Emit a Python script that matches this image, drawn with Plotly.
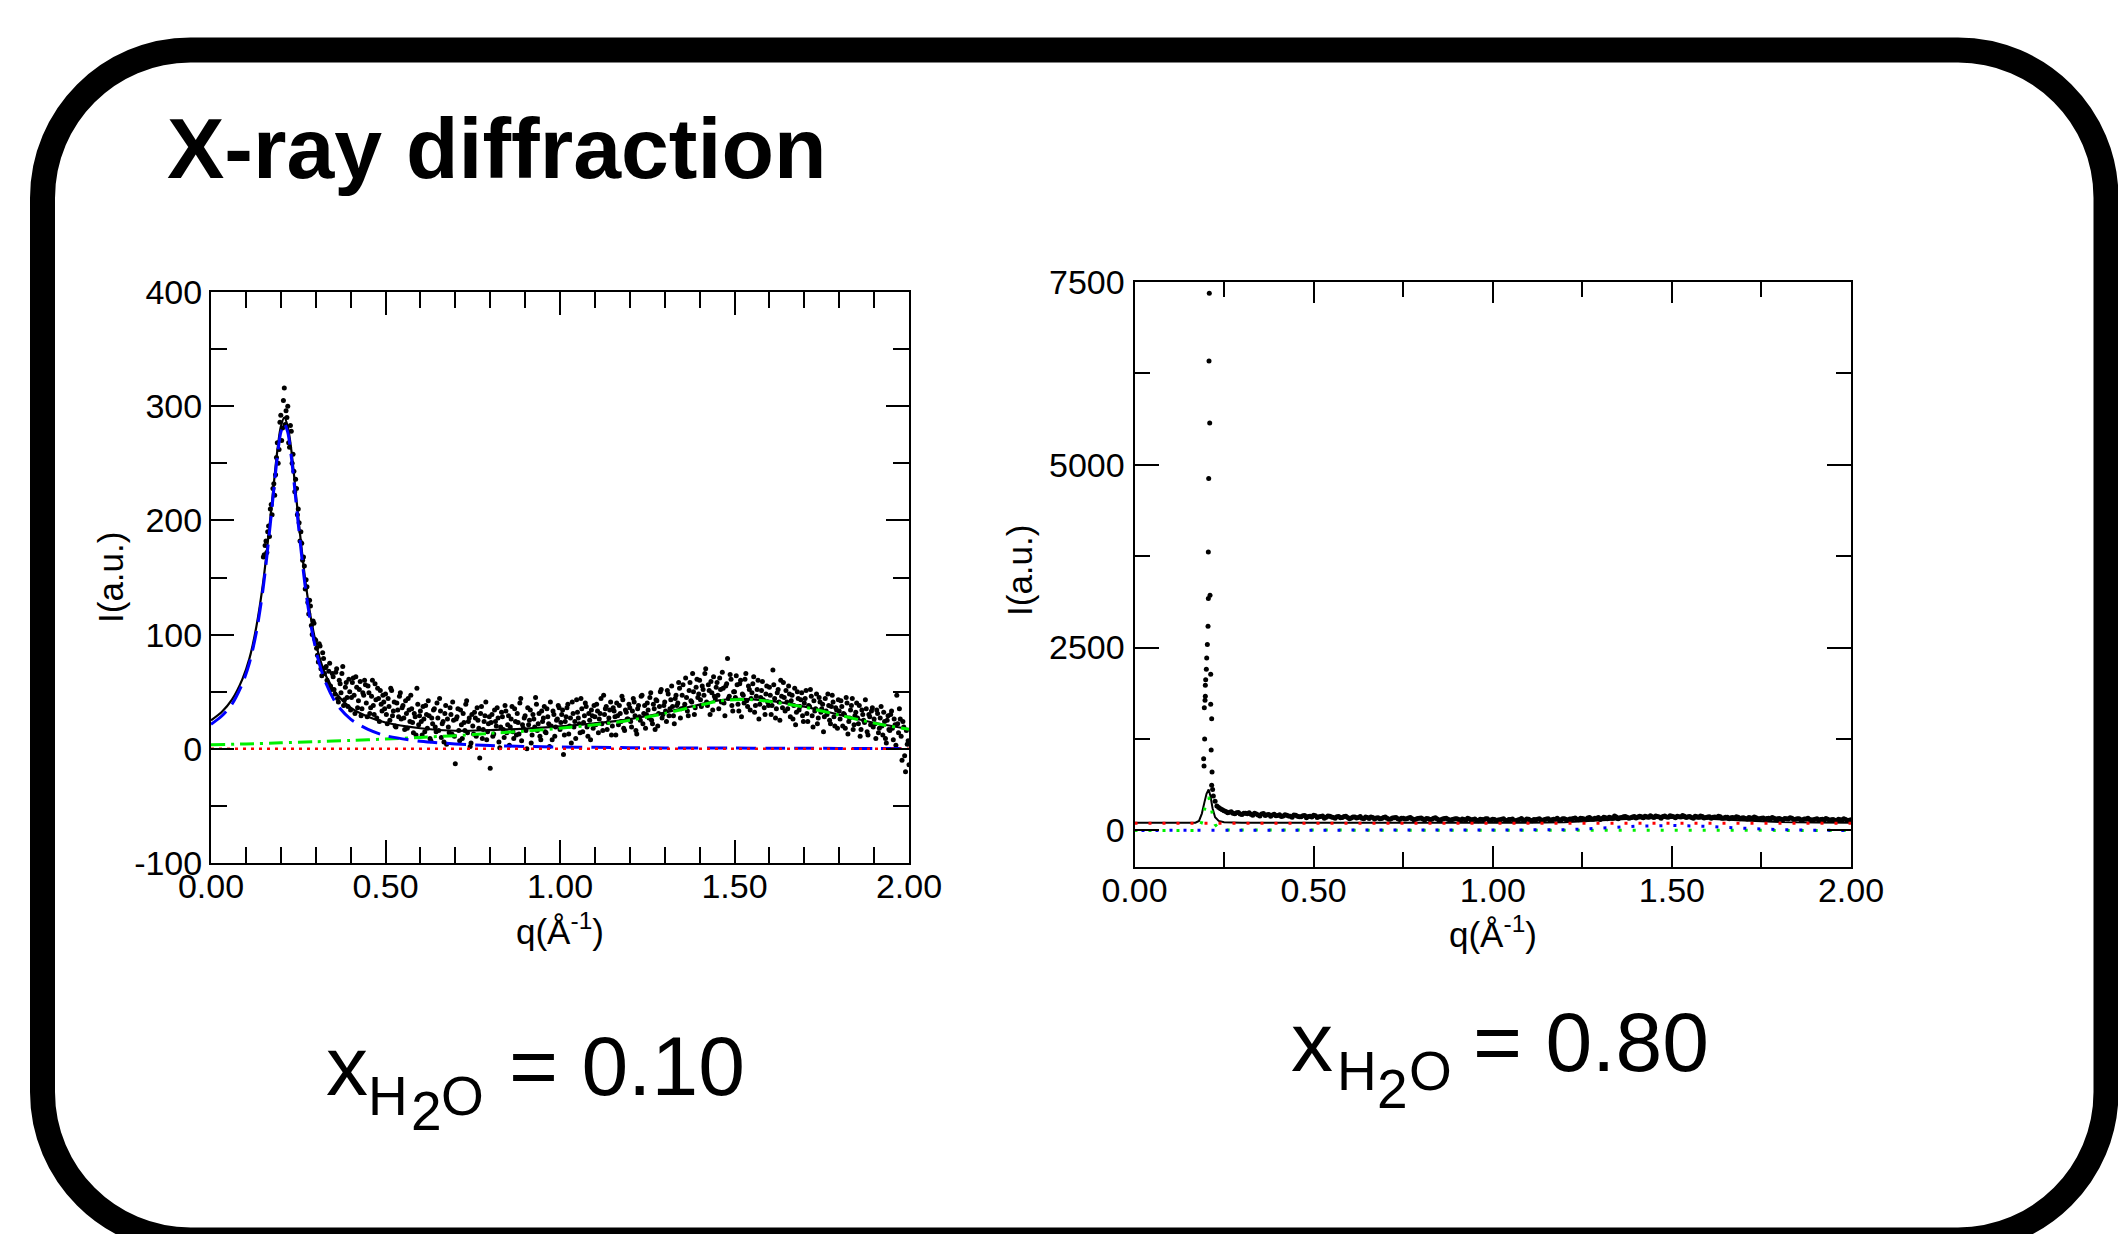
import plotly.graph_objects as go

W, H = 2118, 1234
FONT = "Liberation Sans, Arial, Helvetica, sans-serif"

# ---------------- data: left panel (x_H2O = 0.10) ----------------
Q_FIT_L = [0.00, 0.03, 0.06, 0.09, 0.11, 0.13, 0.15, 0.17, 0.19, 0.20,
           0.21, 0.22, 0.23, 0.25, 0.27, 0.29, 0.31, 0.33, 0.36, 0.40,
           0.45, 0.50, 0.60, 0.70, 0.80, 0.90, 1.00, 1.10, 1.20, 1.30,
           1.40, 1.45, 1.50, 1.60, 1.70, 1.80, 1.90, 2.00]
I_TOTAL_L = [25, 32, 43, 61, 79, 107, 147, 202, 261, 282,
             290, 282, 262, 203, 148, 108, 81, 63.5, 48, 36,
             28, 23, 18, 15.8, 16.4, 17.6, 19.6, 22.3, 26, 31.8,
             38.7, 42.2, 43.6, 42, 36.9, 29.9, 22.8, 17.3]
I_BLUE_L = [21.5, 28.5, 39, 57, 75, 102, 142, 197, 256, 277,
            285, 277, 256, 197, 142, 102, 75, 57, 39, 26,
            17, 11.5, 6.6, 4.3, 2.9, 2.1, 1.6, 1.3, 1.0, 0.8,
            0.7, 0.65, 0.6, 0.5, 0.4, 0.35, 0.3, 0.3]
Q_GREEN_L = [0.0, 0.1, 0.2, 0.3, 0.4, 0.5, 0.6, 0.7, 0.8, 0.9, 1.0, 1.1,
             1.2, 1.3, 1.4, 1.45, 1.5, 1.55, 1.6, 1.7, 1.8, 1.9, 2.0]
I_GREEN_L = [3.5, 4.3, 5.2, 6.2, 7.3, 8.5, 10, 11.5, 13.5, 15.5, 18, 21,
             25, 31, 38, 41.5, 43, 43, 41.5, 36.5, 29.5, 22.5, 17]
Q_RED_L = [0.0, 2.0]
I_RED_L = [0, 0]

# measured points, first sweep
Q_PTS_L = [
    0.150, 0.155, 0.160, 0.165, 0.170, 0.175, 0.180, 0.185, 0.190, 0.195,
    0.200, 0.205, 0.210, 0.215, 0.220, 0.225, 0.230, 0.235, 0.240, 0.245,
    0.250, 0.255, 0.260, 0.265, 0.270, 0.275, 0.280, 0.285, 0.290, 0.295,
    0.300, 0.305, 0.310, 0.315, 0.320, 0.325, 0.330, 0.335, 0.340, 0.345,
    0.350, 0.355, 0.360, 0.365, 0.370, 0.375, 0.380, 0.385, 0.390, 0.395,
    0.400, 0.405, 0.410, 0.415, 0.420, 0.425, 0.430, 0.435, 0.440, 0.445,
    0.450, 0.455, 0.460, 0.465, 0.470, 0.475, 0.480, 0.485, 0.490, 0.495,
    0.500, 0.505, 0.510, 0.515, 0.520, 0.525, 0.530, 0.535, 0.540, 0.545,
    0.550, 0.555, 0.560, 0.565, 0.570, 0.575, 0.580, 0.585, 0.590, 0.595,
    0.600, 0.605, 0.610, 0.615, 0.620, 0.625, 0.630, 0.635, 0.640, 0.645,
    0.650, 0.655, 0.660, 0.665, 0.670, 0.675, 0.680, 0.685, 0.690, 0.695,
    0.700, 0.705, 0.710, 0.715, 0.720, 0.725, 0.730, 0.735, 0.740, 0.745,
    0.750, 0.755, 0.760, 0.765, 0.770, 0.775, 0.780, 0.785, 0.790, 0.795,
    0.800, 0.805, 0.810, 0.815, 0.820, 0.825, 0.830, 0.835, 0.840, 0.845,
    0.850, 0.855, 0.860, 0.865, 0.870, 0.875, 0.880, 0.885, 0.890, 0.895,
    0.900, 0.905, 0.910, 0.915, 0.920, 0.925, 0.930, 0.935, 0.940, 0.945,
    0.950, 0.955, 0.960, 0.965, 0.970, 0.975, 0.980, 0.985, 0.990, 0.995,
    1.000, 1.005, 1.010, 1.015, 1.020, 1.025, 1.030, 1.035, 1.040, 1.045,
    1.050, 1.055, 1.060, 1.065, 1.070, 1.075, 1.080, 1.085, 1.090, 1.095,
    1.100, 1.105, 1.110, 1.115, 1.120, 1.125, 1.130, 1.135, 1.140, 1.145,
    1.150, 1.155, 1.160, 1.165, 1.170, 1.175, 1.180, 1.185, 1.190, 1.195,
    1.200, 1.205, 1.210, 1.215, 1.220, 1.225, 1.230, 1.235, 1.240, 1.245,
    1.250, 1.255, 1.260, 1.265, 1.270, 1.275, 1.280, 1.285, 1.290, 1.295,
    1.300, 1.305, 1.310, 1.315, 1.320, 1.325, 1.330, 1.335, 1.340, 1.345,
    1.350, 1.355, 1.360, 1.365, 1.370, 1.375, 1.380, 1.385, 1.390, 1.395,
    1.400, 1.405, 1.410, 1.415, 1.420, 1.425, 1.430, 1.435, 1.440, 1.445,
    1.450, 1.455, 1.460, 1.465, 1.470, 1.475, 1.480, 1.485, 1.490, 1.495,
    1.500, 1.505, 1.510, 1.515, 1.520, 1.525, 1.530, 1.535, 1.540, 1.545,
    1.550, 1.555, 1.560, 1.565, 1.570, 1.575, 1.580, 1.585, 1.590, 1.595,
    1.600, 1.605, 1.610, 1.615, 1.620, 1.625, 1.630, 1.635, 1.640, 1.645,
    1.650, 1.655, 1.660, 1.665, 1.670, 1.675, 1.680, 1.685, 1.690, 1.695,
    1.700, 1.705, 1.710, 1.715, 1.720, 1.725, 1.730, 1.735, 1.740, 1.745,
    1.750, 1.755, 1.760, 1.765, 1.770, 1.775, 1.780, 1.785, 1.790, 1.795,
    1.800, 1.805, 1.810, 1.815, 1.820, 1.825, 1.830, 1.835, 1.840, 1.845,
    1.850, 1.855, 1.860, 1.865, 1.870, 1.875, 1.880, 1.885, 1.890, 1.895,
    1.900, 1.905, 1.910, 1.915, 1.920, 1.925, 1.930, 1.935, 1.940, 1.945,
    1.950, 1.955, 1.960, 1.965, 1.970, 1.975, 1.980, 1.985, 1.990, 1.995,
    2.000]
I_PTS_L = [
    168, 178, 172, 195, 210, 205, 232, 240, 268, 262,
    292, 281, 316, 296, 300, 264, 278, 258, 225, 228,
    210, 182, 180, 168, 140, 142, 118, 125, 100, 110,
    95, 82, 92, 70, 84, 66, 72, 58, 75, 52,
    63, 48, 70, 41, 57, 66, 38, 54, 45, 61,
    34, 58, 47, 63, 36, 52, 29, 49, 60, 40,
    55, 31, 46, 38, 57, 27, 44, 51, 33, 41,
    48, 22, 37, 53, 29, 41, 19, 34, 46, 26,
    38, 17, 31, 44, 24, 35, 14, 28, 53, 21,
    33, 12, 26, 38, 18, 29, 7, 22, 35, 15,
    27, 44, 10, 24, 31, 4, 19, 36, 13, 25,
    -13, 28, 16, 34, 9, 23, 39, 14, 27, 5,
    20, 32, 11, 25, -8, 37, 17, 29, 8, 22,
    -17, 30, 13, 24, 36, 6, 19, 28, 10, 33,
    21, 3, 26, 15, 35, 12, 23, 40, 7, 18,
    29, 0, 21, 34, 12, 26, 45, 16, 31, 8,
    24, 37, 14, 28, 2, 20, 33, 11, 25, 38,
    17, 30, -5, 24, 36, 13, 27, 41, 19, 9,
    32, 22, 44, 15, 29, 37, 11, 25, 34, 18,
    28, 39, 14, 31, 22, 47, 35, 17, 27, 41,
    20, 33, 12, 29, 38, 24, 43, 16, 32, 26,
    36, 19, 44, 29, 13, 38, 25, 47, 31, 18,
    40, 27, 49, 22, 35, 43, 20, 37, 52, 30,
    41, 24, 48, 35, 55, 29, 44, 38, 58, 27,
    47, 36, 62, 33, 51, 42, 66, 30, 54, 45,
    60, 37, 52, 66, 41, 56, 30, 49, 63, 44,
    58, 35, 52, 67, 40, 55, 79, 46, 61, 33,
    50, 64, 39, 57, 28, 47, 61, 42, 55, 34,
    49, 63, 38, 52, 26, 45, 59, 36, 48, 41,
    54, 30, 69, 44, 35, 52, 25, 46, 58, 33,
    41, 55, 28, 47, 38, 21, 50, 34, 43, 29,
    40, 51, 24, 37, 46, 19, 33, 48, 27, 41,
    35, 15, 44, 30, 38, 22, 47, 28, 36, 18,
    33, 42, 20, 30, 45, 13, 27, 38, 17, 29,
    40, 22, 11, 34, 25, 43, 15, 30, 21, 36,
    26, 9, 31, 18, 37, 12, 24, 5, 29, 16,
    33, 8, 21, 47, 14, 26, -10, 19, -20, 4,
    -14]

# measured points, interleaved sweep
Q_PTS2_L = [
    0.1525, 0.1575, 0.1625, 0.1675, 0.1725, 0.1775, 0.1825, 0.1875, 0.1925, 0.1975,
    0.2025, 0.2075, 0.2125, 0.2175, 0.2225, 0.2275, 0.2325, 0.2375, 0.2425, 0.2475,
    0.2525, 0.2575, 0.2625, 0.2675, 0.2725, 0.2775, 0.2825, 0.2875, 0.2925, 0.2975,
    0.3025, 0.3075, 0.3125, 0.3175, 0.3225, 0.3275, 0.3325, 0.3375, 0.3425, 0.3475,
    0.3525, 0.3575, 0.3625, 0.3675, 0.3725, 0.3775, 0.3825, 0.3875, 0.3925, 0.3975,
    0.4025, 0.4075, 0.4125, 0.4175, 0.4225, 0.4275, 0.4325, 0.4375, 0.4425, 0.4475,
    0.4525, 0.4575, 0.4625, 0.4675, 0.4725, 0.4775, 0.4825, 0.4875, 0.4925, 0.4975,
    0.5025, 0.5075, 0.5125, 0.5175, 0.5225, 0.5275, 0.5325, 0.5375, 0.5425, 0.5475,
    0.5525, 0.5575, 0.5625, 0.5675, 0.5725, 0.5775, 0.5825, 0.5875, 0.5925, 0.5975,
    0.6025, 0.6075, 0.6125, 0.6175, 0.6225, 0.6275, 0.6325, 0.6375, 0.6425, 0.6475,
    0.6525, 0.6575, 0.6625, 0.6675, 0.6725, 0.6775, 0.6825, 0.6875, 0.6925, 0.6975,
    0.7025, 0.7075, 0.7125, 0.7175, 0.7225, 0.7275, 0.7325, 0.7375, 0.7425, 0.7475,
    0.7525, 0.7575, 0.7625, 0.7675, 0.7725, 0.7775, 0.7825, 0.7875, 0.7925, 0.7975,
    0.8025, 0.8075, 0.8125, 0.8175, 0.8225, 0.8275, 0.8325, 0.8375, 0.8425, 0.8475,
    0.8525, 0.8575, 0.8625, 0.8675, 0.8725, 0.8775, 0.8825, 0.8875, 0.8925, 0.8975,
    0.9025, 0.9075, 0.9125, 0.9175, 0.9225, 0.9275, 0.9325, 0.9375, 0.9425, 0.9475,
    0.9525, 0.9575, 0.9625, 0.9675, 0.9725, 0.9775, 0.9825, 0.9875, 0.9925, 0.9975,
    1.0025, 1.0075, 1.0125, 1.0175, 1.0225, 1.0275, 1.0325, 1.0375, 1.0425, 1.0475,
    1.0525, 1.0575, 1.0625, 1.0675, 1.0725, 1.0775, 1.0825, 1.0875, 1.0925, 1.0975,
    1.1025, 1.1075, 1.1125, 1.1175, 1.1225, 1.1275, 1.1325, 1.1375, 1.1425, 1.1475,
    1.1525, 1.1575, 1.1625, 1.1675, 1.1725, 1.1775, 1.1825, 1.1875, 1.1925, 1.1975,
    1.2025, 1.2075, 1.2125, 1.2175, 1.2225, 1.2275, 1.2325, 1.2375, 1.2425, 1.2475,
    1.2525, 1.2575, 1.2625, 1.2675, 1.2725, 1.2775, 1.2825, 1.2875, 1.2925, 1.2975,
    1.3025, 1.3075, 1.3125, 1.3175, 1.3225, 1.3275, 1.3325, 1.3375, 1.3425, 1.3475,
    1.3525, 1.3575, 1.3625, 1.3675, 1.3725, 1.3775, 1.3825, 1.3875, 1.3925, 1.3975,
    1.4025, 1.4075, 1.4125, 1.4175, 1.4225, 1.4275, 1.4325, 1.4375, 1.4425, 1.4475,
    1.4525, 1.4575, 1.4625, 1.4675, 1.4725, 1.4775, 1.4825, 1.4875, 1.4925, 1.4975,
    1.5025, 1.5075, 1.5125, 1.5175, 1.5225, 1.5275, 1.5325, 1.5375, 1.5425, 1.5475,
    1.5525, 1.5575, 1.5625, 1.5675, 1.5725, 1.5775, 1.5825, 1.5875, 1.5925, 1.5975,
    1.6025, 1.6075, 1.6125, 1.6175, 1.6225, 1.6275, 1.6325, 1.6375, 1.6425, 1.6475,
    1.6525, 1.6575, 1.6625, 1.6675, 1.6725, 1.6775, 1.6825, 1.6875, 1.6925, 1.6975,
    1.7025, 1.7075, 1.7125, 1.7175, 1.7225, 1.7275, 1.7325, 1.7375, 1.7425, 1.7475,
    1.7525, 1.7575, 1.7625, 1.7675, 1.7725, 1.7775, 1.7825, 1.7875, 1.7925, 1.7975,
    1.8025, 1.8075, 1.8125, 1.8175, 1.8225, 1.8275, 1.8325, 1.8375, 1.8425, 1.8475,
    1.8525, 1.8575, 1.8625, 1.8675, 1.8725, 1.8775, 1.8825, 1.8875, 1.8925, 1.8975,
    1.9025, 1.9075, 1.9125, 1.9175, 1.9225, 1.9275, 1.9325, 1.9375, 1.9425, 1.9475,
    1.9525, 1.9575, 1.9625, 1.9675, 1.9725, 1.9775, 1.9825, 1.9875, 1.9925, 1.9975]
I_PTS2_L = [
    170, 182, 190, 186, 214, 228, 222, 255, 250, 286,
    270, 305, 284, 290, 268, 283, 250, 243, 236, 205,
    198, 190, 165, 160, 148, 128, 130, 108, 112, 96,
    88, 76, 90, 64, 79, 71, 60, 68, 55, 66,
    52, 67, 44, 60, 49, 72, 43, 58, 37, 50,
    45, 62, 31, 54, 42, 59, 35, 47, 56, 28,
    49, 36, 60, 30, 43, 53, 24, 39, 47, 35,
    30, 44, 25, 51, 33, 20, 40, 28, 49, 36,
    27, 42, 18, 34, 47, 23, 31, 12, 39, 29,
    24, 37, 15, 30, 42, 9, 27, 34, 19, 40,
    16, 33, 22, 6, 38, 26, 14, 30, 41, 11,
    26, 35, 7, 21, 31, 16, 42, 24, 2, 30,
    13, 27, 36, 18, 31, 9, 24, 41, 15, 28,
    23, 11, 34, 20, 27, 1, 32, 17, 38, 14,
    29, 19, 37, 9, 24, 31, 13, 44, 21, 27,
    16, 36, 25, 5, 30, 19, 39, 22, 11, 33,
    27, 15, 35, 22, 41, 8, 30, 19, 26, 36,
    23, 34, 12, 28, 39, 20, 5, 31, 24, 43,
    27, 14, 35, 23, 40, 19, 31, 8, 29, 38,
    21, 33, 26, 44, 16, 30, 37, 23, 34, 12,
    36, 28, 40, 21, 31, 46, 18, 34, 26, 39,
    24, 33, 41, 16, 35, 28, 46, 22, 38, 30,
    34, 45, 25, 39, 17, 42, 31, 50, 27, 38,
    33, 51, 29, 43, 37, 22, 47, 40, 53, 35,
    56, 39, 45, 29, 58, 41, 50, 36, 61, 48,
    43, 55, 47, 70, 38, 51, 59, 34, 46, 54,
    47, 62, 41, 53, 29, 57, 44, 65, 38, 50,
    45, 56, 33, 60, 48, 40, 66, 37, 52, 44,
    57, 32, 46, 60, 39, 51, 43, 30, 55, 38,
    47, 38, 56, 27, 49, 41, 60, 36, 45, 51,
    35, 48, 42, 26, 53, 32, 44, 37, 49, 24,
    44, 31, 38, 52, 29, 42, 35, 22, 45, 32,
    39, 28, 33, 48, 25, 37, 41, 20, 34, 43,
    26, 37, 31, 18, 40, 24, 34, 44, 21, 32,
    27, 38, 17, 30, 23, 35, 12, 28, 33, 19,
    22, 34, 14, 27, 20, 32, 9, 25, 17, 30,
    18, 26, 3, 22, 35, 11, 24, -6, 16, 7]

# ---------------- data: right panel (x_H2O = 0.80) ----------------
Q_FIT_R = [0.00, 0.10, 0.170, 0.180, 0.188, 0.195, 0.201, 0.207, 0.212, 0.218,
           0.225, 0.235, 0.250, 0.30, 0.50, 0.80, 1.00, 1.10, 1.20, 1.30,
           1.40, 1.50, 1.60, 1.70, 1.80, 1.90, 2.00]
I_TOTAL_R = [105, 105, 106, 130, 230, 380, 500, 560, 470, 300,
             180, 130, 112, 106, 105, 105, 105, 106, 113, 135,
             162, 173, 160, 135, 115, 107, 105]
Q_RED_R = [0.0, 2.0]
I_RED_R = [98, 98]
Q_GREEN_R = [0.00, 0.170, 0.180, 0.188, 0.195, 0.201, 0.207, 0.212, 0.218,
             0.225, 0.235, 0.250, 2.00]
I_GREEN_R = [0, 0, 20, 120, 275, 395, 455, 365, 200, 80, 25, 5, 0]
Q_BLUE_R = [0.00, 1.10, 1.20, 1.30, 1.40, 1.50, 1.60, 1.70, 1.80, 1.90, 2.00]
I_BLUE_R = [0, 0, 8, 30, 58, 68, 55, 30, 10, 2, 0]

Q_SPIKE_R = [0.1930, 0.1940, 0.1949, 0.1958, 0.1968, 0.1977, 0.1977, 0.1987,
             0.2005, 0.2015, 0.2033, 0.2052, 0.2061, 0.2061, 0.2071, 0.2080,
             0.2088, 0.2099, 0.2108, 0.2127, 0.2127, 0.2140, 0.2154, 0.2154,
             0.2165, 0.2180]
I_SPIKE_R = [980, 880, 1678, 1250, 1778, 1983, 1833, 2061,
             2202, 2358, 2540, 2790, 3807, 3169, 4810, 6415,
             7341, 5567, 3214, 2134, 1723, 1100, 1528, 616,
             800, 560]
Q_BAND_R = [
    0.22, 0.23, 0.24, 0.25, 0.26, 0.27, 0.28, 0.29, 0.30, 0.31,
    0.32, 0.33, 0.34, 0.35, 0.36, 0.37, 0.38, 0.39, 0.40, 0.41,
    0.42, 0.43, 0.44, 0.45, 0.46, 0.47, 0.48, 0.49, 0.50, 0.51,
    0.52, 0.53, 0.54, 0.55, 0.56, 0.57, 0.58, 0.59, 0.60, 0.61,
    0.62, 0.63, 0.64, 0.65, 0.66, 0.67, 0.68, 0.69, 0.70, 0.71,
    0.72, 0.73, 0.74, 0.75, 0.76, 0.77, 0.78, 0.79, 0.80, 0.81,
    0.82, 0.83, 0.84, 0.85, 0.86, 0.87, 0.88, 0.89, 0.90, 0.91,
    0.92, 0.93, 0.94, 0.95, 0.96, 0.97, 0.98, 0.99, 1.00, 1.01,
    1.02, 1.03, 1.04, 1.05, 1.06, 1.07, 1.08, 1.09, 1.10, 1.11,
    1.12, 1.13, 1.14, 1.15, 1.16, 1.17, 1.18, 1.19, 1.20, 1.21,
    1.22, 1.23, 1.24, 1.25, 1.26, 1.27, 1.28, 1.29, 1.30, 1.31,
    1.32, 1.33, 1.34, 1.35, 1.36, 1.37, 1.38, 1.39, 1.40, 1.41,
    1.42, 1.43, 1.44, 1.45, 1.46, 1.47, 1.48, 1.49, 1.50, 1.51,
    1.52, 1.53, 1.54, 1.55, 1.56, 1.57, 1.58, 1.59, 1.60, 1.61,
    1.62, 1.63, 1.64, 1.65, 1.66, 1.67, 1.68, 1.69, 1.70, 1.71,
    1.72, 1.73, 1.74, 1.75, 1.76, 1.77, 1.78, 1.79, 1.80, 1.81,
    1.82, 1.83, 1.84, 1.85, 1.86, 1.87, 1.88, 1.89, 1.90, 1.91,
    1.92, 1.93, 1.94, 1.95, 1.96, 1.97, 1.98, 1.99, 2.00]
I_BAND_R = [
    470, 335, 296, 270, 242, 255, 228, 246, 219, 236,
    241, 209, 226, 198, 231, 214, 193, 220, 205, 189,
    214, 197, 180, 209, 186, 201, 173, 195, 206, 177,
    190, 168, 198, 182, 165, 189, 175, 194, 160, 183,
    171, 190, 158, 177, 185, 155, 172, 164, 183, 152,
    169, 178, 149, 166, 158, 176, 145, 163, 170, 143,
    159, 151, 172, 140, 156, 165, 138, 152, 161, 136,
    149, 167, 141, 155, 133, 148, 160, 137, 152, 131,
    146, 158, 135, 150, 129, 144, 162, 138, 153, 132,
    147, 160, 140, 156, 136, 151, 166, 143, 158, 140,
    155, 170, 147, 162, 145, 176, 152, 168, 150, 181,
    160, 174, 196, 158, 178, 190, 165, 183, 170, 195,
    172, 188, 200, 176, 191, 168, 197, 181, 194, 172,
    188, 203, 175, 190, 168, 186, 196, 171, 184, 165,
    182, 192, 166, 179, 160, 176, 187, 161, 174, 156,
    171, 182, 158, 168, 150, 166, 177, 153, 163, 146,
    161, 172, 148, 158, 141, 156, 166, 143, 153, 137,
    151, 162, 139, 149, 133, 146, 158, 136, 145]
Q_BAND2_R = [
    0.225, 0.235, 0.245, 0.255, 0.265, 0.275, 0.285, 0.295, 0.305, 0.315,
    0.325, 0.335, 0.345, 0.355, 0.365, 0.375, 0.385, 0.395, 0.405, 0.415,
    0.425, 0.435, 0.445, 0.455, 0.465, 0.475, 0.485, 0.495, 0.505, 0.515,
    0.525, 0.535, 0.545, 0.555, 0.565, 0.575, 0.585, 0.595, 0.605, 0.615,
    0.625, 0.635, 0.645, 0.655, 0.665, 0.675, 0.685, 0.695, 0.705, 0.715,
    0.725, 0.735, 0.745, 0.755, 0.765, 0.775, 0.785, 0.795, 0.805, 0.815,
    0.825, 0.835, 0.845, 0.855, 0.865, 0.875, 0.885, 0.895, 0.905, 0.915,
    0.925, 0.935, 0.945, 0.955, 0.965, 0.975, 0.985, 0.995, 1.005, 1.015,
    1.025, 1.035, 1.045, 1.055, 1.065, 1.075, 1.085, 1.095, 1.105, 1.115,
    1.125, 1.135, 1.145, 1.155, 1.165, 1.175, 1.185, 1.195, 1.205, 1.215,
    1.225, 1.235, 1.245, 1.255, 1.265, 1.275, 1.285, 1.295, 1.305, 1.315,
    1.325, 1.335, 1.345, 1.355, 1.365, 1.375, 1.385, 1.395, 1.405, 1.415,
    1.425, 1.435, 1.445, 1.455, 1.465, 1.475, 1.485, 1.495, 1.505, 1.515,
    1.525, 1.535, 1.545, 1.555, 1.565, 1.575, 1.585, 1.595, 1.605, 1.615,
    1.625, 1.635, 1.645, 1.655, 1.665, 1.675, 1.685, 1.695, 1.705, 1.715,
    1.725, 1.735, 1.745, 1.755, 1.765, 1.775, 1.785, 1.795, 1.805, 1.815,
    1.825, 1.835, 1.845, 1.855, 1.865, 1.875, 1.885, 1.895, 1.905, 1.915,
    1.925, 1.935, 1.945, 1.955, 1.965, 1.975, 1.985, 1.995]
I_BAND2_R = [
    400, 312, 281, 260, 249, 236, 241, 225, 233, 228,
    220, 234, 211, 226, 205, 219, 210, 201, 215, 198,
    207, 192, 212, 195, 188, 204, 190, 182, 199, 186,
    196, 180, 193, 176, 187, 172, 191, 178, 170, 185,
    176, 168, 182, 163, 178, 170, 160, 175, 166, 157,
    172, 161, 168, 155, 170, 158, 151, 166, 156, 162,
    150, 165, 155, 147, 162, 152, 145, 159, 149, 155,
    143, 157, 150, 139, 154, 145, 158, 141, 149, 144,
    153, 140, 148, 156, 137, 150, 143, 155, 139, 148,
    154, 141, 150, 160, 145, 153, 147, 161, 150, 157,
    163, 152, 168, 157, 171, 160, 165, 175, 163, 172,
    180, 168, 185, 174, 188, 179, 172, 190, 182, 186,
    193, 180, 188, 196, 183, 190, 185, 199, 186, 192,
    182, 195, 187, 178, 192, 181, 189, 176, 186, 179,
    175, 186, 170, 181, 173, 167, 180, 169, 163, 175,
    165, 174, 160, 171, 162, 156, 168, 159, 152, 164,
    155, 166, 151, 160, 147, 157, 150, 145, 158, 148,
    143, 154, 146, 140, 151, 142, 149, 138]

# ---------------- tick labels ----------------
X_TICKS = [0.0, 0.5, 1.0, 1.5, 2.0]
X_TICKTEXT = ["0.00", "0.50", "1.00", "1.50", "2.00"]
Y_TICKS_L = [-100, 0, 100, 200, 300, 400]
Y_TICKTEXT_L = ["-100", "0", "100", "200", "300", "400"]
Y_TICKS_R = [0, 2500, 5000, 7500]
Y_TICKTEXT_R = ["0", "2500", "5000", "7500"]


def px(x):
    return x / W


def py(y):
    return 1 - y / H


fig = go.Figure()
MK = dict(color="black", size=5, line=dict(width=0))

# left panel
fig.add_trace(go.Scatter(x=Q_PTS_L, y=I_PTS_L, mode="markers", xaxis="x", yaxis="y", marker=MK))
fig.add_trace(go.Scatter(x=Q_PTS2_L, y=I_PTS2_L, mode="markers", xaxis="x", yaxis="y", marker=MK))
fig.add_trace(go.Scatter(x=Q_FIT_L, y=I_TOTAL_L, mode="lines", xaxis="x", yaxis="y",
                         line=dict(color="black", width=2.2, shape="spline", smoothing=0.8)))
fig.add_trace(go.Scatter(x=Q_GREEN_L, y=I_GREEN_L, mode="lines", xaxis="x", yaxis="y",
                         line=dict(color="#00f000", width=3, shape="spline", smoothing=0.8,
                                   dash="14px,6px,3px,6px")))
fig.add_trace(go.Scatter(x=Q_FIT_L, y=I_BLUE_L, mode="lines", xaxis="x", yaxis="y",
                         line=dict(color="#0000ff", width=3, shape="spline", smoothing=0.8,
                                   dash="20px,9px")))
fig.add_trace(go.Scatter(x=Q_RED_L, y=I_RED_L, mode="lines", xaxis="x", yaxis="y",
                         line=dict(color="#ff0000", width=2.5, dash="3px,5px")))

# right panel
fig.add_trace(go.Scatter(x=Q_SPIKE_R + Q_BAND_R, y=I_SPIKE_R + I_BAND_R, mode="markers",
                         xaxis="x2", yaxis="y2", marker=MK))
fig.add_trace(go.Scatter(x=Q_BAND2_R, y=I_BAND2_R, mode="markers",
                         xaxis="x2", yaxis="y2", marker=MK))
fig.add_trace(go.Scatter(x=Q_FIT_R, y=I_TOTAL_R, mode="lines", xaxis="x2", yaxis="y2",
                         line=dict(color="black", width=2)))
fig.add_trace(go.Scatter(x=Q_RED_R, y=I_RED_R, mode="lines", xaxis="x2", yaxis="y2",
                         line=dict(color="#ff0000", width=3, dash="3px,11px")))
fig.add_trace(go.Scatter(x=Q_GREEN_R, y=I_GREEN_R, mode="lines", xaxis="x2", yaxis="y2",
                         line=dict(color="#00f000", width=3, dash="3px,11px")))
fig.add_trace(go.Scatter(x=Q_BLUE_R, y=I_BLUE_R, mode="lines", xaxis="x2", yaxis="y2",
                         line=dict(color="#0000ff", width=3, dash="0px,7px,3px,4px")))


def axis(domain, rng, tickvals, ticktext, major_len, minor_tick0, minor_dtick, minor_len,
         anchor, standoff):
    return dict(domain=domain, range=rng, autorange=False, anchor=anchor, automargin=False,
                tickmode="array", tickvals=tickvals, ticktext=ticktext,
                ticks="inside", ticklen=major_len, tickwidth=2, tickcolor="black",
                showline=True, linecolor="black", linewidth=2, mirror="allticks",
                showgrid=False, zeroline=False, ticklabelstandoff=standoff,
                tickfont=dict(family=FONT, size=34, color="black"),
                minor=dict(tickmode="linear", tick0=minor_tick0, dtick=minor_dtick,
                           ticks="inside", ticklen=minor_len, tickwidth=2,
                           tickcolor="black", showgrid=False))


layout = dict(
    template="none",
    width=W, height=H, margin=dict(l=0, r=0, t=0, b=0, pad=0, autoexpand=False),
    paper_bgcolor="white", plot_bgcolor="white", showlegend=False,
    font=dict(family=FONT, color="black"),
    xaxis=axis([px(211), px(909)], [0, 2], X_TICKS, X_TICKTEXT, 23, 0, 0.1, 16, "y", -8),
    yaxis=axis([py(863), py(292)], [-100, 400], Y_TICKS_L, Y_TICKTEXT_L, 23, -100, 50, 16, "x", 0),
    xaxis2=axis([px(1134.5), px(1851)], [0, 2], X_TICKS, X_TICKTEXT, 21, 0, 0.25, 15, "y2", -8),
    yaxis2=axis([py(867), py(281.7)], [-500, 7500], Y_TICKS_R, Y_TICKTEXT_R, 24, 0, 1250, 15, "x2", 1),
)
fig.update_layout(**layout)

# rounded frame
x0, y0, x1, y1, r = 42.5, 50, 2106, 1240, 148
k = 0.5523 * r
frame = (f"M {px(x0 + r)},{py(y0)} L {px(x1 - r)},{py(y0)} "
         f"C {px(x1 - r + k)},{py(y0)} {px(x1)},{py(y0 + r - k)} {px(x1)},{py(y0 + r)} "
         f"L {px(x1)},{py(y1 - r)} "
         f"C {px(x1)},{py(y1 - r + k)} {px(x1 - r + k)},{py(y1)} {px(x1 - r)},{py(y1)} "
         f"L {px(x0 + r)},{py(y1)} "
         f"C {px(x0 + r - k)},{py(y1)} {px(x0)},{py(y1 - r + k)} {px(x0)},{py(y1 - r)} "
         f"L {px(x0)},{py(y0 + r)} "
         f"C {px(x0)},{py(y0 + r - k)} {px(x0 + r - k)},{py(y0)} {px(x0 + r)},{py(y0)} Z")
fig.add_shape(type="path", path=frame, xref="paper", yref="paper",
              line=dict(color="black", width=25), fillcolor="rgba(0,0,0,0)", layer="above")


def label(text, x, y, size, xanchor="left", yanchor="middle", angle=0):
    fig.add_annotation(text=text, x=px(x), y=py(y), xref="paper", yref="paper",
                       xanchor=xanchor, yanchor=yanchor, showarrow=False, textangle=angle,
                       borderpad=0, borderwidth=0,
                       font=dict(family=FONT, size=size, color="black"))


label("<b>X-ray diffraction</b>", 167, 148.5, 86)

# axis titles
label("I(a.u.)", 110, 578, 35, xanchor="center", angle=-90)
label("I(a.u.)", 1019, 571, 35, xanchor="center", angle=-90)
label("q(Å<sup>-1</sup>)", 560, 929, 35, xanchor="center")
label("q(Å<sup>-1</sup>)", 1493, 932, 35, xanchor="center")

# composition labels
label("x", 326, 1065.9, 84)
label("H", 368, 1095.9, 55)
label("2", 411, 1110.9, 55)
label("O", 441, 1095.9, 55)
label("= 0.10", 509, 1065.9, 84)

label("x", 1291, 1041.9, 84)
label("H", 1337, 1070.9, 55)
label("2", 1377, 1088.9, 55)
label("O", 1409, 1070.9, 55)
label("= 0.80", 1473, 1041.9, 84)

fig.write_html("out.html", config={"displayModeBar": False},
               post_script="document.body.style.margin='0';")
